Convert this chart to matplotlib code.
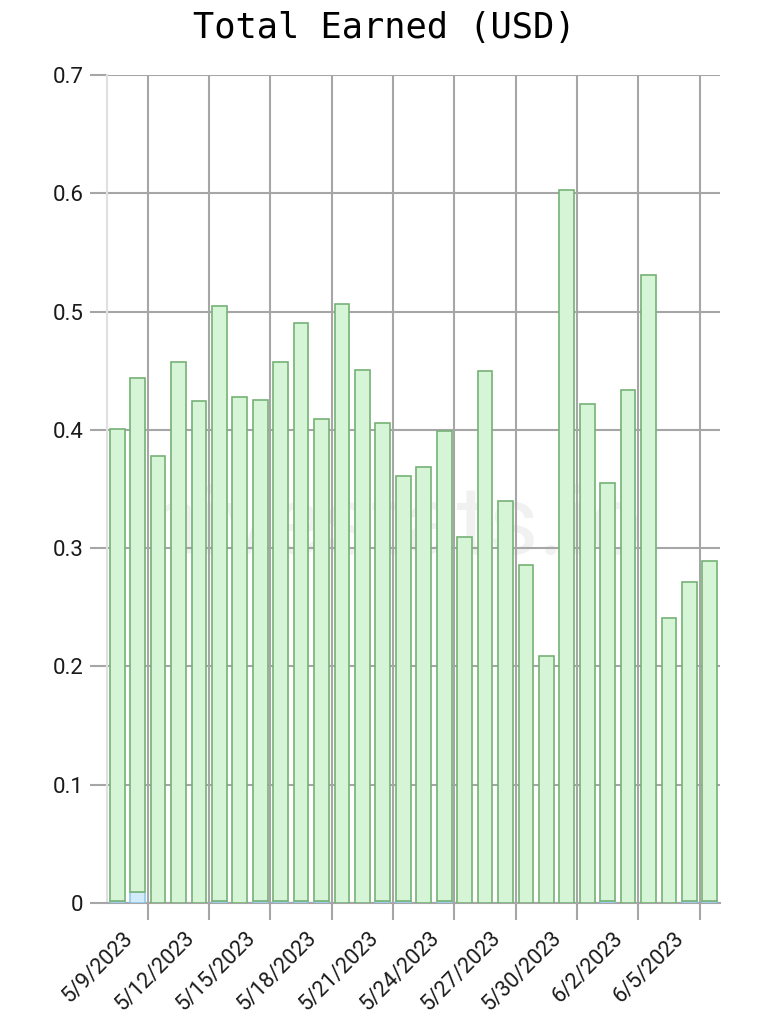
import matplotlib
matplotlib.use("Agg")
import matplotlib.pyplot as plt
import matplotlib.transforms as mtransforms
import numpy as np

dates = ["5/8/2023", "5/9/2023", "5/10/2023", "5/11/2023", "5/12/2023", "5/13/2023",
         "5/14/2023", "5/15/2023", "5/16/2023", "5/17/2023", "5/18/2023", "5/19/2023",
         "5/20/2023", "5/21/2023", "5/22/2023", "5/23/2023", "5/24/2023", "5/25/2023",
         "5/26/2023", "5/27/2023", "5/28/2023", "5/29/2023", "5/30/2023", "5/31/2023",
         "6/1/2023", "6/2/2023", "6/3/2023", "6/4/2023", "6/5/2023", "6/6/2023"]

other_usd = [0.0015, 0.009, 0.0, 0.0, 0.0, 0.0015, 0.0, 0.0015, 0.0015, 0.0015,
             0.0015, 0.0, 0.0, 0.0015, 0.0015, 0.0, 0.0015, 0.0, 0.0, 0.0,
             0.0, 0.0, 0.0, 0.0, 0.0015, 0.0, 0.0, 0.0, 0.0015, 0.0015]

earned_usd = [0.3995, 0.435, 0.378, 0.457, 0.424, 0.5035, 0.428, 0.4235, 0.4555, 0.4885,
              0.4075, 0.506, 0.451, 0.4045, 0.3595, 0.369, 0.3975, 0.309, 0.450, 0.340,
              0.286, 0.2085, 0.603, 0.422, 0.3535, 0.434, 0.531, 0.241, 0.2695, 0.2875]

label_every = 3
first_label = 1

W, H = 768, 1029
fig = plt.figure(figsize=(W / 100, H / 100), dpi=100)
ax = fig.add_axes([107 / W, 1 - 903 / H, (720 - 107) / W, (903 - 75) / H])

x = np.arange(len(dates))
grid_c = "#a6a6a6"

blue_lw = [1.1 if v > 0 else 0.0 for v in other_usd]
ax.bar(x, other_usd, width=0.72, color="#d2ebfb", edgecolor="#8cc4e6", linewidth=blue_lw, zorder=3)
ax.bar(x, earned_usd, width=0.72, bottom=other_usd, color="#d6f5d6", edgecolor="#76b276",
       linewidth=1.2, zorder=3)

ax.set_xlim(-0.5, len(dates) - 0.5)
ax.set_ylim(0, 0.7)

yt = np.round(np.arange(0, 0.71, 0.1), 1)
ax.set_yticks(yt)
ax.set_yticklabels(["0"] + [f"{v:.1f}" for v in yt[1:]])
ax.yaxis.grid(True, color=grid_c, linewidth=1.5, zorder=0)
ax.tick_params(axis="y", length=12, width=1.5, color=grid_c, pad=5,
               labelsize=16, labelcolor="#1a1a1a")

lab_idx = list(range(first_label, len(dates), label_every))
ax.set_xticks(lab_idx)
ax.set_xticklabels([dates[i] for i in lab_idx], rotation=45, ha="right", va="center",
                   rotation_mode="anchor")
ax.tick_params(axis="x", which="major", length=0, pad=23, labelsize=15.6, labelcolor="#1a1a1a")

grid_pos = [i + 0.5 for i in lab_idx]
ax.set_xticks(grid_pos, minor=True)
ax.xaxis.grid(True, which="minor", color=grid_c, linewidth=1.5, zorder=0)
ax.tick_params(axis="x", which="minor", length=12, width=1.5, color=grid_c)

shift = mtransforms.ScaledTranslation(-8 / 100, 0, fig.dpi_scale_trans)
for lbl in ax.get_xticklabels():
    lbl.set_transform(lbl.get_transform() + shift)

for lbl in ax.get_xticklabels() + ax.get_yticklabels():
    lbl.set_fontfamily("Roboto")

for s in ["top", "right"]:
    ax.spines[s].set_visible(False)
ax.spines["left"].set_color("#e0e0e0")
ax.spines["left"].set_linewidth(1.5)
ax.spines["bottom"].set_color(grid_c)
ax.spines["bottom"].set_linewidth(1.5)

ax.text(0.47, 0.453, "hivestats.io", transform=ax.transAxes, ha="center", va="center",
        fontsize=70, color="#000000", alpha=0.055, fontfamily="Roboto", zorder=1)

fig.text(0.5, 1 - 28 / H, "Total Earned (USD)", ha="center", va="center",
         fontsize=25.5, fontfamily="DejaVu Sans Mono", color="#000000")

fig.savefig("out.png", dpi=100)
